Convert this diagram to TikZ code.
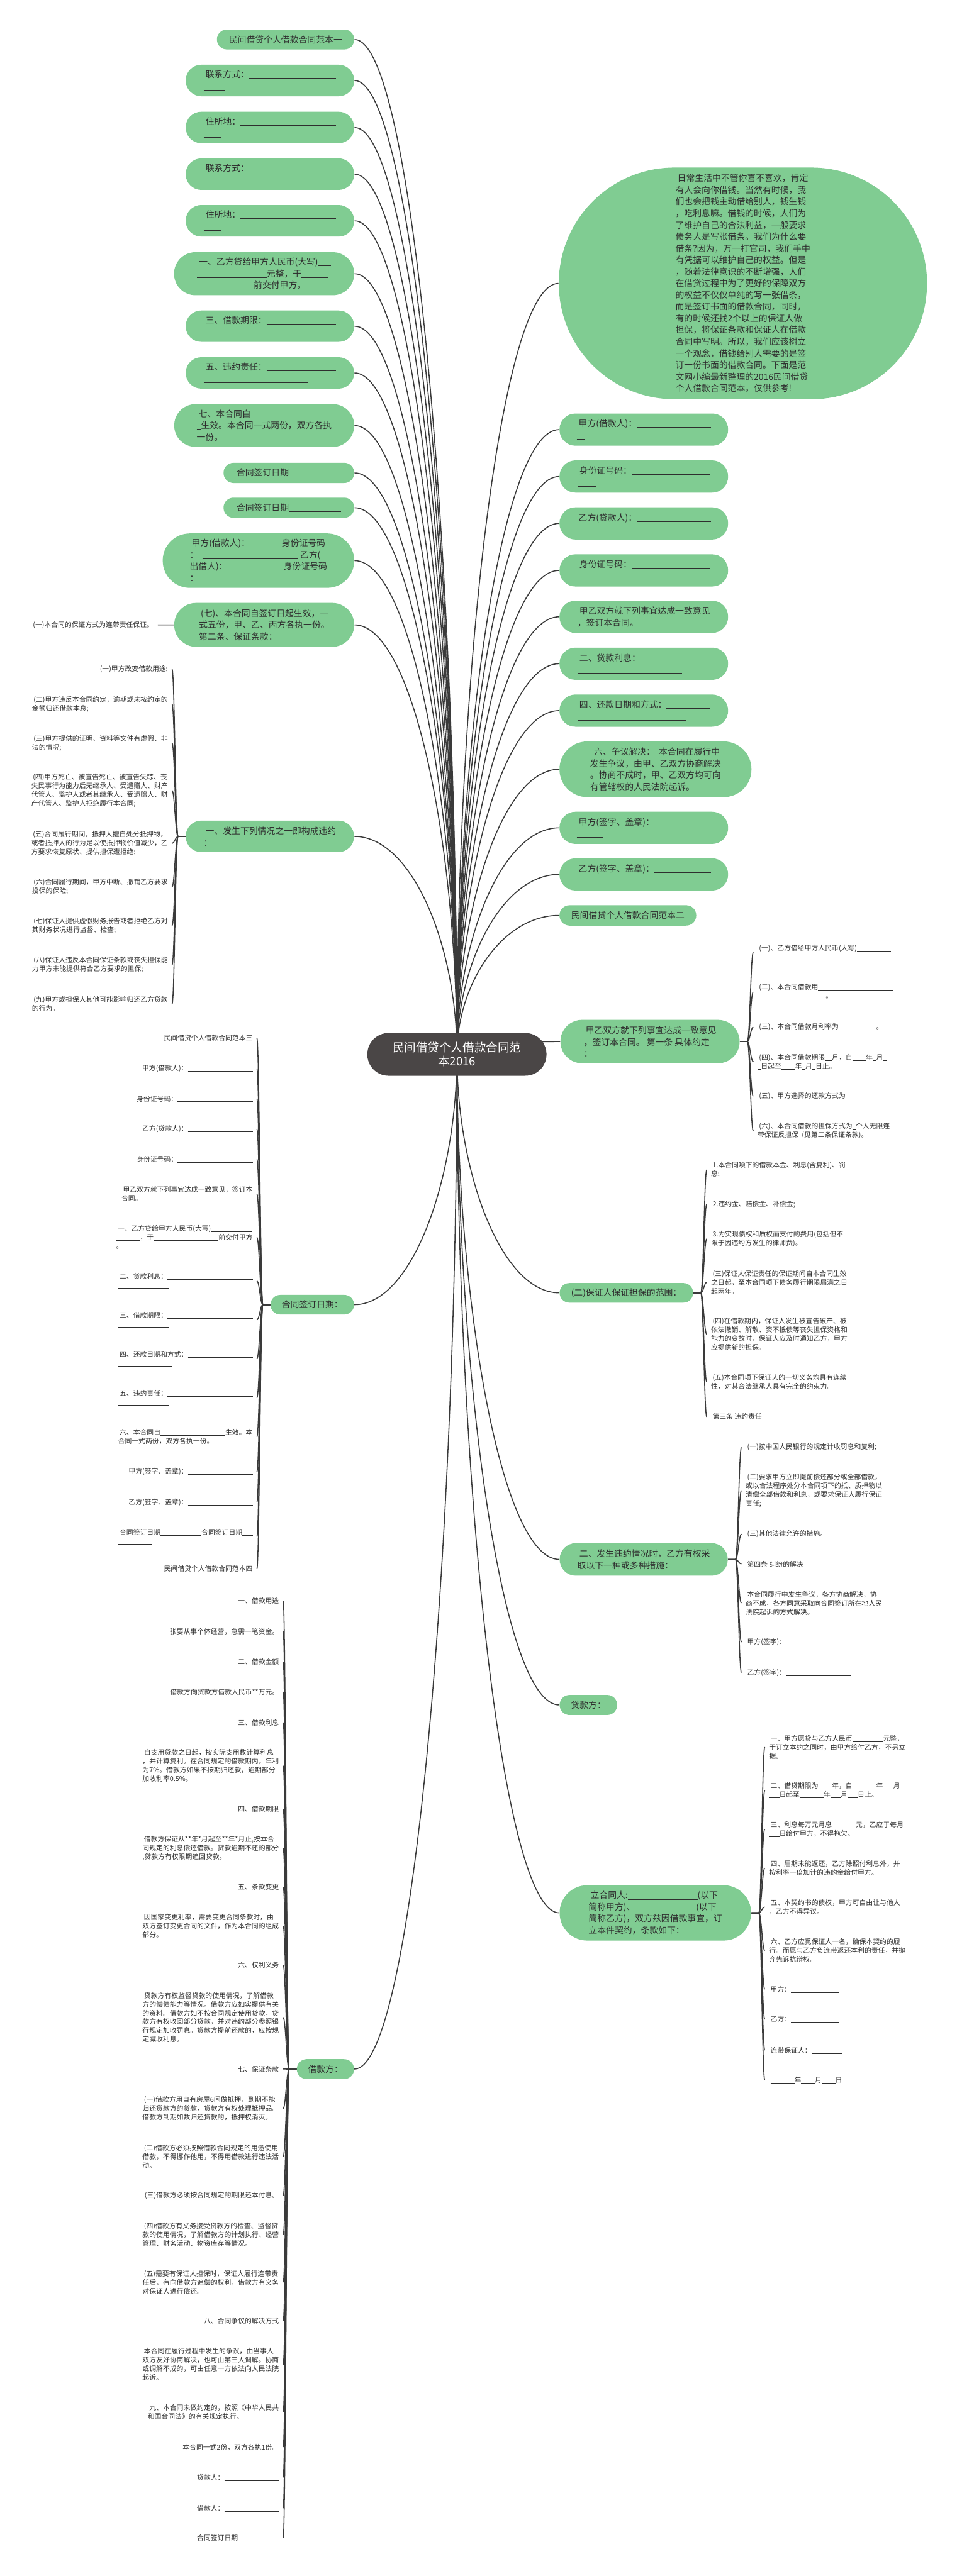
\documentclass[tikz,border=0pt]{standalone}
\usepackage{fontspec}
\newfontfamily\cjk{Noto Sans CJK SC}
\usetikzlibrary{calc}
\pgfdeclarelayer{bg}
\pgfsetlayers{bg,main}
\definecolor{gfill}{HTML}{80CC92}
\definecolor{lcol}{HTML}{3A3A3A}
\definecolor{tdark}{HTML}{2E2E2E}
\definecolor{cfill}{HTML}{4A4646}
\newcommand\mygfont{\cjk\fontsize{5.3}{7.1}\selectfont}
\newcommand\mylfont{\cjk\fontsize{4.15}{5.35}\selectfont}
\newcommand\mycfont{\cjk\fontsize{7.1}{8.7}\selectfont}
\newcommand\ublank[1]{\rule[-0.12em]{#1em}{0.075em}}
\tikzset{
 gnode/.style={fill=gfill, text=tdark, font=\mygfont, align=left, inner sep=0pt},
 gp/.style n args={3}{minimum width=#1pt, minimum height=#2pt, rounded corners=#3pt},
 leaf/.style={text=tdark, font=\mylfont, align=left, inner xsep=2.4pt, inner ysep=0.5pt},
 edge/.style={draw=lcol, line width=0.6pt},
 cnode/.style={fill=cfill, text=white, font=\mycfont, align=center, rounded corners=12.9pt, minimum width=109pt, minimum height=26pt, inner sep=0pt}
}
\newcommand\lnkL[1]{\draw[edge] let \p1=(cc), \p2=(#1.east) in (\p2) .. controls (\x2+35pt,\y2) and (\x1,{0.5*\y1+0.5*\y2}) .. (\p1);}
\newcommand\lnkR[1]{\draw[edge] let \p1=(cc), \p2=(#1.west) in (\p2) .. controls (\x2-35pt,\y2) and (\x1,{0.5*\y1+0.5*\y2}) .. (\p1);}
\newcommand\brL[2]{\draw[edge] let \p1=(#1.west), \p2=(#2.east) in (\p1) -- (\x1-4.5pt,\y1) .. controls (\x1-6pt,\y1) and (\x2+1.5pt,\y2) .. (\p2);}
\newcommand\brR[2]{\draw[edge] let \p1=(#1.east), \p2=(#2.west) in (\p1) -- (\x1+4.5pt,\y1) .. controls (\x1+6pt,\y1) and (\x2-1.5pt,\y2) .. (\p2);}
\begin{document}
\begin{tikzpicture}[x=1pt,y=-1pt]
\begin{pgfonlayer}{bg}
\fill[white] (0,0) rectangle (582.26,1568);
\end{pgfonlayer}
\useasboundingbox (0,0) rectangle (582.26,1568);

% center
\node[cnode] (ctr) at (278,641.8) {民间借贷个人借款合同范\\本2016};
\coordinate (cc) at (278,641.8);

% left top green nodes
\node[gnode,gp={83.5}{12.1}{6}] (a1) at (173.75,24.05) {民间借贷个人借款合同范本一};
\node[gnode,gp={102.5}{19.2}{9.55}] (a2) at (164.25,49) {\ 联系方式：\ublank{10}\\\ublank{2.5}};
\node[gnode,gp={102.5}{19.2}{9.55}] (a3) at (164.25,77.6) {\ 住所地：\ublank{11}\\\ublank{2}};
\node[gnode,gp={102.5}{19.2}{9.55}] (a4) at (164.25,106) {\ 联系方式：\ublank{10}\\\ublank{2.5}};
\node[gnode,gp={102.5}{19.2}{9.55}] (a5) at (164.25,134.4) {\ 住所地：\ublank{11}\\\ublank{2}};
\node[gnode,gp={109.6}{26.2}{13.05}] (a6) at (160.7,166.6) {\ 一、乙方贷给甲方人民币(大写)\ublank{1.5}\\\ublank{8}元整，于\ublank{3}\\\ublank{6.5}前交付甲方。};
\node[gnode,gp={102.5}{19.1}{9.5}] (a7) at (164.25,198.55) {\ 三、借款期限：\ublank{8}\\\ublank{12}};
\node[gnode,gp={102.5}{19.1}{9.5}] (a8) at (164.25,227) {\ 五、违约责任：\ublank{8}\\\ublank{12}};
\node[gnode,gp={109.5}{26}{12.95}] (a9) at (160.75,259) {\ 七、本合同自\ublank{9}\\\ublank{0.5}生效。本合同一式两份，双方各执\\一份。};
\node[gnode,gp={79.5}{12.3}{6.1}] (a10) at (175.75,287.85) {合同签订日期\ublank{6}};
\node[gnode,gp={79.5}{12.3}{6.1}] (a11) at (175.75,309.05) {合同签订日期\ublank{6}};
\node[gnode,gp={116.5}{33.1}{16.5}] (a12) at (157.25,341.25) {\ 甲方(借款人)：\ \ \ublank{0.5}\ \ublank{2.5}身份证号码\\：\ \ \ublank{11}\ 乙方(\\出借人)：\ \ \ublank{6}身份证号码\\：\ \ \ublank{11}};
\node[gnode,gp={109.5}{26.7}{13.3}] (a13) at (160.75,380.35) {\ (七)、本合同自签订日起生效，一\\式五份，甲、乙、丙方各执一份。\\第二条、保证条款：};
\node[gnode,gp={102.4}{19.2}{9.55}] (b1) at (164.2,509.1) {\ 一、发生下列情况之一即构成违约\\：};
\node[gnode,gp={50.8}{11.9}{5.9}] (b2) at (190,794.15) {合同签订日期：};
\node[gnode,gp={34.8}{12.1}{6}] (b3) at (198,1259.45) {借款方：};

% right green nodes
\node[gnode,gp={224}{141}{70.4}] (r0) at (452,172.5) {\ 日常生活中不管你喜不喜欢，肯定\\有人会向你借钱。当然有时候，我\\们也会把钱主动借给别人，钱生钱\\，吃利息嘛。借钱的时候，人们为\\了维护自己的合法利益，一般要求\\债务人是写张借条。我们为什么要\\借条?因为，万一打官司，我们手中\\有凭据可以维护自己的权益。但是\\，随着法律意识的不断增强，人们\\在借贷过程中为了更好的保障双方\\的权益不仅仅单纯的写一张借条，\\而是签订书面的借款合同，同时，\\有的时候还找2个以上的保证人做\\担保，将保证条款和保证人在借款\\合同中写明。所以，我们应该树立\\一个观念，借钱给别人需要的是签\\订一份书面的借款合同。下面是范\\文网小编最新整理的2016民间借贷\\个人借款合同范本，仅供参考!};
\node[gnode,gp={102.6}{19.6}{9.75}] (r1) at (391.7,261.5) {\ 甲方(借款人)：\ublank{8.5}\\\ublank{1}};
\node[gnode,gp={102.6}{19.6}{9.75}] (r2) at (391.7,290.05) {\ 身份证号码：\ublank{9}\\\ublank{2.2}};
\node[gnode,gp={102.6}{19.6}{9.75}] (r3) at (391.7,318.6) {\ 乙方(贷款人)：\ublank{8.5}\\\ublank{1}};
\node[gnode,gp={102.6}{19.6}{9.75}] (r4) at (391.7,347.2) {\ 身份证号码：\ublank{9}\\\ublank{2.2}};
\node[gnode,gp={102.6}{19.6}{9.75}] (r5) at (391.7,375.45) {\ 甲乙双方就下列事宜达成一致意见\\，签订本合同。};
\node[gnode,gp={102.6}{19.6}{9.75}] (r6) at (391.7,404) {\ 二、贷款利息：\ublank{8}\\\ublank{12}};
\node[gnode,gp={102.6}{19.6}{9.75}] (r7) at (391.7,432.55) {\ 四、还款日期和方式：\ublank{5}\\\ublank{12.5}};
\node[gnode,gp={116.8}{33.9}{16.9}] (r8) at (398.8,468.25) {\ \ 六、争议解决：\ \ 本合同在履行中\\发生争议，由甲、乙双方协商解决\\。协商不成时，甲、乙双方均可向\\有管辖权的人民法院起诉。};
\node[gnode,gp={102.6}{19.6}{9.75}] (r9) at (391.7,503.9) {\ 甲方(签字、盖章)：\ublank{6.5}\\\ublank{3}};
\node[gnode,gp={102.6}{19.6}{9.75}] (r10) at (391.7,532.25) {\ 乙方(签字、盖章)：\ublank{6.5}\\\ublank{3}};
\node[gnode,gp={83.2}{12.4}{6.15}] (r11) at (382,557.2) {民间借贷个人借款合同范本二};
\node[gnode,gp={109}{26.4}{13.15}] (r12) at (395.5,634) {\ 甲乙双方就下列事宜达成一致意见\\，签订本合同。\ 第一条\ 具体约定\\：};
\node[gnode,gp={81.2}{11.9}{5.9}] (r13) at (381.1,786.95) {(二)保证人保证担保的范围：};
\node[gnode,gp={102.3}{19.8}{9.85}] (r14) at (391.65,949.2) {\ 二、发生违约情况时，乙方有权采\\取以下一种或多种措施：};
\node[gnode,gp={35}{12.2}{6.05}] (r15) at (358,1037.8) {贷款方：};
\node[gnode,gp={116.5}{33.7}{16.8}] (r16) at (398.75,1164.35) {\ 立合同人:\ublank{8}(以下\\简称甲方)、\ublank{7}(以下\\简称乙方)，双方兹因借款事宜，订\\立本件契约，条款如下：};

% leaf: (七) child
\node[leaf,anchor=east] (k1) at (96,380.4) {(一)本合同的保证方式为连带责任保证。};

% leaves of b1
\node[leaf,anchor=east] (l1) at (104.7,407.4) {(一)甲方改变借款用途;};
\node[leaf,anchor=east] (l2) at (104.7,428.6) {\ (二)甲方违反本合同约定，逾期或未按约定的\\金额归还借款本息;};
\node[leaf,anchor=east] (l3) at (104.7,452.3) {\ (三)甲方提供的证明、资料等文件有虚假、非\\法的情况;};
\node[leaf,anchor=east] (l4) at (104.7,481.2) {\ (四)甲方死亡、被宣告死亡、被宣告失踪、丧\\失民事行为能力后无继承人、受遗赠人、财产\\代管人、监护人或者其继承人、受遗赠人、财\\产代管人、监护人拒绝履行本合同;};
\node[leaf,anchor=east] (l5) at (104.7,513.4) {\ (五)合同履行期间，抵押人擅自处分抵押物，\\或者抵押人的行为足以使抵押物价值减少，乙\\方要求恢复原状、提供担保遭拒绝;};
\node[leaf,anchor=east] (l6) at (104.7,539.7) {\ (六)合同履行期间，甲方中断、撤销乙方要求\\投保的保险;};
\node[leaf,anchor=east] (l7) at (104.7,563.4) {\ (七)保证人提供虚假财务报告或者拒绝乙方对\\其财务状况进行监督、检查;};
\node[leaf,anchor=east] (l8) at (104.7,587.3) {\ (八)保证人违反本合同保证条款或丧失担保能\\力甲方未能提供符合乙方要求的担保;};
\node[leaf,anchor=east] (l9) at (104.7,611) {\ (九)甲方或担保人其他可能影响归还乙方贷款\\的行为。};

% leaves of b2
\node[leaf,anchor=east] (m1) at (156.3,631.9) {民间借贷个人借款合同范本三};
\node[leaf,anchor=east] (m2) at (156.3,650.4) {甲方(借款人)：\ublank{9.5}};
\node[leaf,anchor=east] (m3) at (156.3,668.8) {身份证号码：\ublank{11}};
\node[leaf,anchor=east] (m4) at (156.3,687.2) {乙方(贷款人)：\ublank{9.5}};
\node[leaf,anchor=east] (m5) at (156.3,705.7) {身份证号码：\ublank{11}};
\node[leaf,anchor=east] (m6) at (156.3,726.7) {\ 甲乙双方就下列事宜达成一致意见，签订本\\合同。};
\node[leaf,anchor=east] (m7) at (156.3,753.2) {\ 一、乙方贷给甲方人民币(大写)\ublank{6}\\\ublank{3.5}，于\ublank{9.5}前交付甲方\\。};
\node[leaf,anchor=east] (m8) at (156.3,779.7) {\ 二、贷款利息：\ublank{12.5}\\\ublank{7.5}};
\node[leaf,anchor=east] (m9) at (156.3,803.4) {\ 三、借款期限：\ublank{12.5}\\\ublank{7.5}};
\node[leaf,anchor=east] (m10) at (156.3,827.2) {\ 四、还款日期和方式：\ublank{9.5}\\\ublank{8}};
\node[leaf,anchor=east] (m11) at (156.3,850.8) {\ 五、违约责任：\ublank{12.5}\\\ublank{7.5}};
\node[leaf,anchor=east] (m12) at (156.3,874.5) {\ 六、本合同自\ublank{9.5}生效。本\\合同一式两份，双方各执一份。};
\node[leaf,anchor=east] (m13) at (156.3,895.8) {甲方(签字、盖章)：\ublank{9.5}};
\node[leaf,anchor=east] (m14) at (156.3,914.4) {乙方(签字、盖章)：\ublank{9.5}};
\node[leaf,anchor=east] (m15) at (156.3,935.3) {\ 合同签订日期\ublank{6}合同签订日期\ublank{1.5}\\\ublank{5}};
\node[leaf,anchor=east] (m16) at (156.3,955) {民间借贷个人借款合同范本四};

% leaves of b3
\node[leaf,anchor=east] (n1) at (172.3,974.4) {一、借款用途};
\node[leaf,anchor=east] (n2) at (172.3,993) {\ 张要从事个体经营，急需一笔资金。};
\node[leaf,anchor=east] (n3) at (172.3,1011.6) {二、借款金额};
\node[leaf,anchor=east] (n4) at (172.3,1029.8) {\ 借款方向贷款方借款人民币**万元。};
\node[leaf,anchor=east] (n5) at (172.3,1048.5) {三、借款利息};
\node[leaf,anchor=east] (n6) at (172.3,1074.8) {\ 自支用贷款之日起，按实际支用数计算利息\\，并计算复利。在合同规定的借款期内，年利\\为7\%。借款方如果不按期归还款，逾期部分\\加收利率0.5\%。};
\node[leaf,anchor=east] (n7) at (172.3,1101.3) {四、借款期限};
\node[leaf,anchor=east] (n8) at (172.3,1125.1) {\ 借款方保证从**年*月起至**年*月止,按本合\\同规定的利息偿还借款。贷款逾期不还的部分\\,贷款方有权限期追回贷款。};
\node[leaf,anchor=east] (n9) at (172.3,1148.6) {五、条款变更};
\node[leaf,anchor=east] (n10) at (172.3,1172.4) {\ 因国家变更利率，需要变更合同条款时，由\\双方签订变更合同的文件，作为本合同的组成\\部分。};
\node[leaf,anchor=east] (n11) at (172.3,1196.2) {六、权利义务};
\node[leaf,anchor=east] (n12) at (172.3,1228) {\ 贷款方有权监督贷款的使用情况，了解借款\\方的偿债能力等情况。借款方应如实提供有关\\的资料。借款方如不按合同规定使用贷款，贷\\款方有权收回部分贷款，并对违约部分参照银\\行规定加收罚息。贷款方提前还款的，应按规\\定减收利息。};
\node[leaf,anchor=east] (n13) at (172.3,1259.4) {七、保证条款};
\node[leaf,anchor=east] (n14) at (172.3,1283.4) {\ (一)借款方用自有房屋6间做抵押，到期不能\\归还贷款方的贷款，贷款方有权处理抵押品。\\借款方到期如数归还贷款的，抵押权消灭。};
\node[leaf,anchor=east] (n15) at (172.3,1312.6) {\ (二)借款方必须按照借款合同规定的用途使用\\借款，不得挪作他用，不得用借款进行违法活\\动。};
\node[leaf,anchor=east] (n16) at (172.3,1336.3) {\ (三)借款方必须按合同规定的期限还本付息。};
\node[leaf,anchor=east] (n17) at (172.3,1360.1) {\ (四)借款方有义务接受贷款方的检查、监督贷\\款的使用情况，了解借款方的计划执行、经营\\管理、财务活动、物资库存等情况。};
\node[leaf,anchor=east] (n18) at (172.3,1389.2) {\ (五)需要有保证人担保时，保证人履行连带责\\任后，有向借款方追偿的权利，借款方有义务\\对保证人进行偿还。};
\node[leaf,anchor=east] (n19) at (172.3,1412.7) {八、合同争议的解决方式};
\node[leaf,anchor=east] (n20) at (172.3,1439.3) {\ 本合同在履行过程中发生的争议，由当事人\\双方友好协商解决，也可由第三人调解。协商\\或调解不成的，可由任意一方依法向人民法院\\起诉。};
\node[leaf,anchor=east] (n21) at (172.3,1468.3) {\ 九、本合同未做约定的，按照《中华人民共\\和国合同法》的有关规定执行。};
\node[leaf,anchor=east] (n22) at (172.3,1489.5) {\ 本合同一式2份，双方各执1份。};
\node[leaf,anchor=east] (n23) at (172.3,1508) {贷款人：\ublank{8}};
\node[leaf,anchor=east] (n24) at (172.3,1526.7) {借款人：\ublank{8}};
\node[leaf,anchor=east] (n25) at (172.3,1544.9) {合同签订日期\ublank{6}};

% leaves of r12
\node[leaf,anchor=west] (d1) at (458.3,579.7) {\ (一)、乙方借给甲方人民币(大写)\ublank{5}\\\ublank{4.5}};
\node[leaf,anchor=west] (d2) at (458.3,603.7) {\ (二)、本合同借款用\ublank{11}\\\ublank{10}。};
\node[leaf,anchor=west] (d3) at (458.3,625.2) {\ (三)、本合同借款月利率为\ublank{5.5}。};
\node[leaf,anchor=west] (d4) at (458.3,646.3) {\ (四)、本合同借款期限\ublank{1}月，自\ublank{2}年\ublank{0.5}月\ublank{0.5}\\\ublank{0.5}日起至\ublank{2}年\ublank{0.5}月\ublank{0.5}日止。};
\node[leaf,anchor=west] (d5) at (458.3,667.3) {\ (五)、甲方选择的还款方式为};
\node[leaf,anchor=west] (d6) at (458.3,688.4) {\ (六)、本合同借款的担保方式为\ublank{0.5}个人无限连\\带保证反担保\ublank{0.5}(见第二条保证条款)。};

% leaves of r13
\node[leaf,anchor=west] (p1) at (430,712.1) {\ 1.本合同项下的借款本金、利息(含复利)、罚\\息;};
\node[leaf,anchor=west] (p2) at (430,733) {\ 2.违约金、赔偿金、补偿金;};
\node[leaf,anchor=west] (p3) at (430,754.1) {\ 3.为实现债权和质权而支付的费用(包括但不\\限于因违约方发生的律师费)。};
\node[leaf,anchor=west] (p4) at (430,780.6) {\ (三)保证人保证责任的保证期间自本合同生效\\之日起，至本合同项下债务履行期限届满之日\\起两年。};
\node[leaf,anchor=west] (p5) at (430,812.2) {\ (四)在借款期内，保证人发生被宣告破产、被\\依法撤销、解散、资不抵债等丧失担保资格和\\能力的变故时，保证人应及时通知乙方，甲方\\应提供新的担保。};
\node[leaf,anchor=west] (p6) at (430,841.2) {\ (五)本合同项下保证人的一切义务均具有连续\\性，对其合法继承人具有完全的约束力。};
\node[leaf,anchor=west] (p7) at (430,862.4) {\ 第三条\ 违约责任};

% leaves of r14
\node[leaf,anchor=west] (q1) at (451.1,881) {\ (一)按中国人民银行的规定计收罚息和复利;};
\node[leaf,anchor=west] (q2) at (451.1,907.2) {\ (二)要求甲方立即提前偿还部分或全部借款，\\或以合法程序处分本合同项下的抵、质押物以\\清偿全部借款和利息，或要求保证人履行保证\\责任;};
\node[leaf,anchor=west] (q3) at (451.1,933.7) {\ (三)其他法律允许的措施。};
\node[leaf,anchor=west] (q4) at (451.1,952) {\ 第四条\ 纠纷的解决};
\node[leaf,anchor=west] (q5) at (451.1,975.8) {\ 本合同履行中发生争议，各方协商解决，协\\商不成，各方同意采取向合同签订所在地人民\\法院起诉的方式解决。};
\node[leaf,anchor=west] (q6) at (451.1,999.6) {\ 甲方(签字)：\ublank{9.5}};
\node[leaf,anchor=west] (q7) at (451.1,1018.1) {\ 乙方(签字)：\ublank{9.5}};

% leaves of r16
\node[leaf,anchor=west] (s1) at (465.3,1063.4) {\ 一、甲方愿贷与乙方人民币\ublank{4.5}元整，\\于订立本约之同时，由甲方给付乙方，不另立\\据。};
\node[leaf,anchor=west] (s2) at (465.3,1089.8) {\ 二、借贷期限为\ublank{2}年，自\ublank{3.5}年\ublank{1.5}月\\\ublank{1.5}日起至\ublank{3.5}年\ublank{1.5}月\ublank{1.5}日止。};
\node[leaf,anchor=west] (s3) at (465.3,1113.3) {\ 三、利息每万元月息\ublank{3.5}元，乙应于每月\\\ublank{1.5}日给付甲方，不得拖欠。};
\node[leaf,anchor=west] (s4) at (465.3,1137.1) {\ 四、届期未能返还，乙方除照付利息外，并\\按利率一倍加计的违约金给付甲方。};
\node[leaf,anchor=west] (s5) at (465.3,1160.7) {\ 五、本契约书的债权，甲方可自由让与他人\\，乙方不得异议。};
\node[leaf,anchor=west] (s6) at (465.3,1187.3) {\ 六、乙方应觅保证人一名，确保本契约的履\\行。而愿与乙方负连带返还本利的责任，并抛\\弃先诉抗辩权。};
\node[leaf,anchor=west] (s7) at (465.3,1210.9) {\ 甲方：\ublank{7}};
\node[leaf,anchor=west] (s8) at (465.3,1229.2) {\ 乙方：\ublank{7}};
\node[leaf,anchor=west] (s9) at (465.3,1248) {\ 连带保证人：\ublank{4.5}};
\node[leaf,anchor=west] (s10) at (465.3,1266.2) {\ \ublank{3.5}年\ublank{2}月\ublank{2}日};

\begin{pgfonlayer}{bg}
\foreach \nm in {a1,a2,a3,a4,a5,a6,a7,a8,a9,a10,a11,a12,a13,b1,b2,b3} {\lnkL{\nm}}
\foreach \nm in {r0,r1,r2,r3,r4,r5,r6,r7,r8,r9,r10,r11,r12,r13,r14,r15,r16} {\lnkR{\nm}}
\draw[edge] (a13.west) -- (k1.east);
\foreach \i in {1,...,9} {\brL{b1}{l\i}}
\foreach \i in {1,...,16} {\brL{b2}{m\i}}
\foreach \i in {1,...,25} {\brL{b3}{n\i}}
\foreach \i in {1,...,6} {\brR{r12}{d\i}}
\foreach \i in {1,...,7} {\brR{r13}{p\i}}
\foreach \i in {1,...,7} {\brR{r14}{q\i}}
\foreach \i in {1,...,10} {\brR{r16}{s\i}}
\end{pgfonlayer}
\end{tikzpicture}
\end{document}
